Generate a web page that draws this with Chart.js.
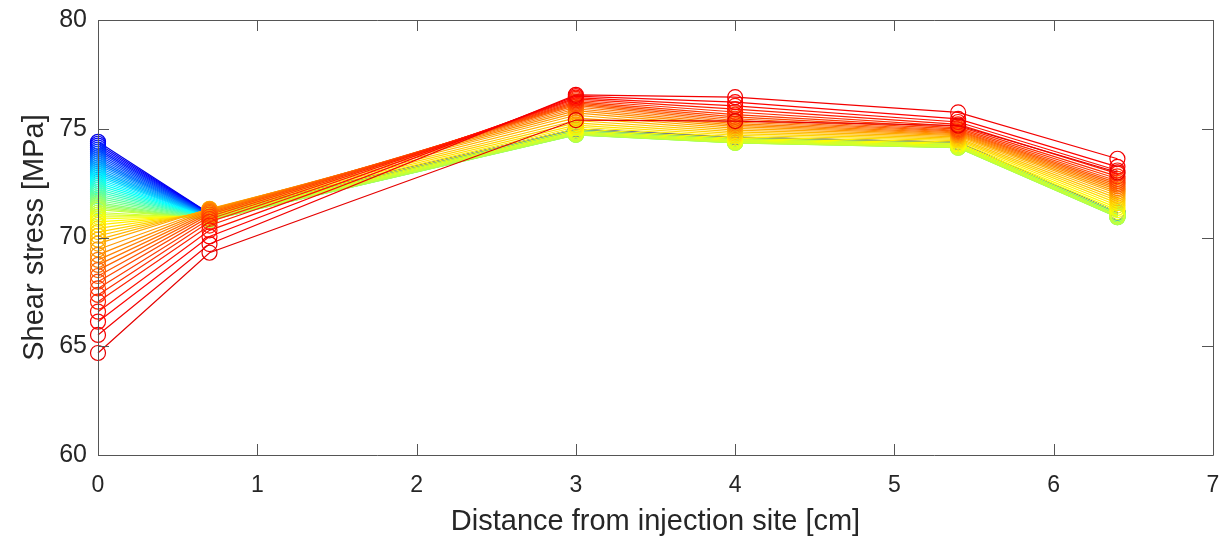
<!DOCTYPE html>
<html>
<head>
<meta charset="utf-8">
<title>Shear stress vs distance</title>
<script src="https://cdn.jsdelivr.net/npm/chart.js@4.4.1/dist/chart.umd.min.js"></script>
<style>
  html, body { margin: 0; padding: 0; background: #fff; }
  #wrap { width: 1224px; height: 541px; }
</style>
</head>
<body>
<div id="wrap"><canvas id="stressChart" width="1224" height="541"></canvas></div>
<script>
/* Shear stress along the sample, one line per load step (jet colours) */

const xPositions = [0, 0.7, 3, 4, 5.4, 6.4];
const xTicks = [0, 1, 2, 3, 4, 5, 6, 7];
const yTicks = [60, 65, 70, 75, 80];

// stress at each measuring point, one value per load step (60 steps)
const stressAt0 = [
    74.40, 74.31, 74.22, 74.13, 74.04, 73.95, 73.86, 73.77, 73.68, 73.59,
    73.50, 73.41, 73.32, 73.23, 73.14, 73.05, 72.96, 72.87, 72.78, 72.69,
    72.60, 72.50, 72.40, 72.30, 72.20, 72.10, 72.00, 71.90, 71.80, 71.70,
    71.60, 71.52, 71.44, 71.36, 71.28, 71.15, 71.05, 70.95, 70.85, 70.72,
    70.58, 70.42, 70.25, 70.08, 69.90, 69.72, 69.45, 69.20, 68.97, 68.74,
    68.50, 68.23, 67.97, 67.66, 67.36, 67.05, 66.59, 66.13, 65.52, 64.69,
];
const stressAt07 = [
    71.10, 71.09, 71.08, 71.07, 71.06, 71.05, 71.04, 71.03, 71.02, 71.01,
    71.00, 70.99, 70.98, 70.97, 70.96, 70.95, 70.94, 70.93, 70.92, 70.91,
    70.90, 70.89, 70.88, 70.87, 70.86, 70.85, 70.84, 70.83, 70.82, 70.81,
    70.80, 70.80, 70.80, 70.82, 70.85, 70.88, 70.92, 70.96, 71.00, 71.05,
    71.10, 71.15, 71.20, 71.25, 71.30, 71.32, 71.30, 71.27, 71.23, 71.18,
    71.12, 71.05, 70.96, 70.85, 70.72, 70.55, 70.33, 70.05, 69.70, 69.30,
];
const stressAt3 = [
    74.98, 74.97, 74.97, 74.96, 74.96, 74.95, 74.95, 74.94, 74.94, 74.93,
    74.93, 74.92, 74.91, 74.90, 74.89, 74.88, 74.87, 74.86, 74.85, 74.84,
    74.83, 74.82, 74.81, 74.80, 74.79, 74.78, 74.77, 74.76, 74.75, 74.74,
    74.73, 74.72, 74.72, 74.73, 74.75, 74.78, 74.82, 74.87, 74.93, 75.00,
    75.08, 75.17, 75.27, 75.38, 75.50, 75.62, 75.73, 75.83, 75.92, 76.00,
    76.07, 76.13, 76.19, 76.25, 76.31, 76.37, 76.43, 76.50, 76.56, 75.40,
];
const stressAt4 = [
    74.62, 74.61, 74.61, 74.60, 74.59, 74.59, 74.58, 74.57, 74.57, 74.56,
    74.55, 74.55, 74.54, 74.53, 74.53, 74.52, 74.52, 74.51, 74.50, 74.50,
    74.49, 74.48, 74.47, 74.46, 74.45, 74.44, 74.43, 74.42, 74.41, 74.40,
    74.38, 74.36, 74.35, 74.35, 74.36, 74.38, 74.41, 74.45, 74.50, 74.56,
    74.63, 74.70, 74.78, 74.86, 74.94, 75.02, 75.10, 75.17, 75.24, 75.31,
    75.38, 75.46, 75.55, 75.65, 75.77, 75.90, 76.05, 76.22, 76.45, 75.35,
];
const stressAt54 = [
    74.38, 74.37, 74.37, 74.36, 74.36, 74.35, 74.35, 74.34, 74.34, 74.33,
    74.33, 74.32, 74.32, 74.31, 74.31, 74.30, 74.30, 74.29, 74.29, 74.28,
    74.27, 74.26, 74.25, 74.24, 74.23, 74.22, 74.21, 74.20, 74.19, 74.18,
    74.16, 74.14, 74.13, 74.13, 74.14, 74.16, 74.19, 74.23, 74.28, 74.33,
    74.39, 74.45, 74.51, 74.57, 74.63, 74.68, 74.73, 74.77, 74.81, 74.85,
    74.89, 74.93, 74.98, 75.04, 75.11, 75.20, 75.31, 75.45, 75.75, 75.15,
];
const stressAt64 = [
    71.15, 71.15, 71.14, 71.14, 71.13, 71.13, 71.12, 71.12, 71.11, 71.11,
    71.10, 71.10, 71.09, 71.09, 71.08, 71.08, 71.07, 71.07, 71.06, 71.06,
    71.05, 71.04, 71.03, 71.02, 71.01, 71.00, 70.99, 70.98, 70.97, 70.96,
    70.94, 70.93, 70.93, 70.94, 70.97, 71.02, 71.09, 71.17, 71.26, 71.36,
    71.47, 71.58, 71.69, 71.80, 71.91, 72.01, 72.10, 72.19, 72.27, 72.35,
    72.43, 72.51, 72.60, 72.70, 72.81, 72.94, 73.08, 73.25, 73.62, 73.00,
];

const columns = [stressAt0, stressAt07, stressAt3, stressAt4, stressAt54, stressAt64];
const FONT = "'Liberation Sans', Arial, Helvetica, sans-serif";
const TEXT_COLOR = '#262626';
const FRAME_COLOR = '#555';

// jet colormap value -> rgb string
function jet(t) {
    const clamp = v => Math.max(0, Math.min(1, v));
    const r = clamp(1.5 - Math.abs(4 * t - 3));
    const g = clamp(1.5 - Math.abs(4 * t - 2));
    const b = clamp(1.5 - Math.abs(4 * t - 1));
    return `rgb(${Math.round(r * 255)},${Math.round(g * 255)},${Math.round(b * 255)})`;
}

const nSteps = stressAt0.length;
const datasets = [];
for (let i = 0; i < nSteps; i++) {
    const color = jet(0.1 + 0.8 * i / (nSteps - 1));
    datasets.push({
        label: `step ${i + 1}`,
        data: xPositions.map((x, j) => ({ x, y: columns[j][i] })),
        borderColor: color,
        borderWidth: 1.2,
        pointRadius: 7.5,
        pointBorderColor: color,
        pointBorderWidth: 1.2,
        pointBackgroundColor: 'rgba(0,0,0,0)',
        tension: 0,
        clip: false,
        order: nSteps - i, // later (red) steps drawn on top
    });
}

// MATLAB style box with inward ticks on all four sides
const boxPlugin = {
    id: 'matlabBox',
    afterDraw(chart) {
        const { ctx, chartArea: a, scales } = chart;
        const len = 11;
        ctx.save();
        ctx.strokeStyle = FRAME_COLOR;
        ctx.lineWidth = 1;
        ctx.beginPath();
        ctx.rect(Math.round(a.left) + 0.5, Math.round(a.top) + 0.5,
                 Math.round(a.right - a.left), Math.round(a.bottom - a.top));
        for (const v of xTicks) {
            const px = Math.round(scales.x.getPixelForValue(v)) + 0.5;
            ctx.moveTo(px, a.bottom); ctx.lineTo(px, a.bottom - len);
            ctx.moveTo(px, a.top); ctx.lineTo(px, a.top + len);
        }
        for (const v of yTicks) {
            const py = Math.round(scales.y.getPixelForValue(v)) + 0.5;
            ctx.moveTo(a.left, py); ctx.lineTo(a.left + len, py);
            ctx.moveTo(a.right, py); ctx.lineTo(a.right - len, py);
        }
        ctx.stroke();
        ctx.restore();
    },
};

new Chart(document.getElementById('stressChart'), {
    type: 'line',
    data: { datasets },
    plugins: [boxPlugin],
    options: {
        responsive: false,
        animation: false,
        layout: { padding: { top: 20, right: 11, left: 0, bottom: 0 } },
        plugins: {
            legend: { display: false },
            tooltip: { enabled: false },
        },
        scales: {
            x: {
                type: 'linear',
                min: 0,
                max: 7,
                afterBuildTicks: s => { s.ticks = xTicks.map(v => ({ value: v })); },
                afterFit: s => { s.height = 86; s.paddingLeft = 0; s.paddingRight = 0; },
                grid: { display: false, drawTicks: false },
                border: { display: false },
                ticks: {
                    color: TEXT_COLOR,
                    padding: 17,
                    font: { family: FONT, size: 23 },
                    maxRotation: 0,
                },
                title: {
                    display: true,
                    text: 'Distance from injection site [cm]',
                    color: TEXT_COLOR,
                    font: { family: FONT, size: 29 },
                    padding: { top: 0, bottom: 2 },
                },
            },
            y: {
                min: 60,
                max: 80,
                afterBuildTicks: s => { s.ticks = yTicks.map(v => ({ value: v })); },
                afterFit: s => { s.width = 98; s.paddingTop = 0; s.paddingBottom = 0; },
                grid: { display: false, drawTicks: false },
                border: { display: false },
                ticks: {
                    color: TEXT_COLOR,
                    padding: 11,
                    font: { family: FONT, size: 25 },
                },
                title: {
                    display: true,
                    text: 'Shear stress [MPa]',
                    color: TEXT_COLOR,
                    font: { family: FONT, size: 29 },
                    padding: { top: 18, bottom: 0 },
                },
            },
        },
    },
});
</script>
</body>
</html>
